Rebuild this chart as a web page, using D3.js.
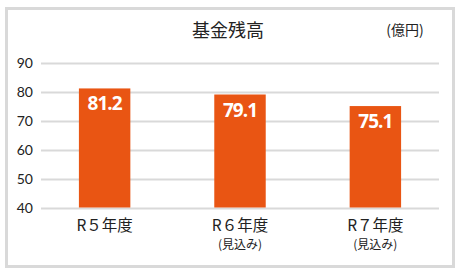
<html>
<head>
<meta charset="utf-8">
<script src="https://d3js.org/d3.v7.min.js"></script>
<style>
  body { margin: 0; background: #fff; }
  text { font-family: "Noto Sans CJK JP", "Noto Sans", sans-serif; fill: #222; }
</style>
</head>
<body>
<svg id="chart" width="460" height="273"></svg>
<script>
const categories = ["R５年度", "R６年度", "R７年度"];
const subLabels = ["", "(見込み)", "(見込み)"];
const values = [81.2, 79.1, 75.1];
const yTicks = [40, 50, 60, 70, 80, 90];

const svg = d3.select("svg#chart");
const margin = { top: 63, right: 21, bottom: 66, left: 41 };
const width = 460, height = 273;

// outer frame
svg.append("rect")
   .attr("x", 6.5).attr("y", 8.5)
   .attr("width", 447).attr("height", 258)
   .attr("fill", "none")
   .attr("stroke", "#d9d9d9")
   .attr("stroke-width", 3);

const x = d3.scaleBand()
   .domain(categories)
   .range([margin.left, width - margin.right])
   .paddingInner(0.62).paddingOuter(0.28);

const y = d3.scaleLinear()
   .domain([40, 90])
   .range([height - margin.bottom + 0.5, margin.top]);

// grid lines
svg.append("g").selectAll("line").data(yTicks)
   .join("line")
   .attr("x1", margin.left).attr("x2", width - margin.right)
   .attr("y1", d => Math.round(y(d)) + 0.5).attr("y2", d => Math.round(y(d)) + 0.5)
   .attr("stroke", "#d9d9d9").attr("stroke-width", 2);

// y tick labels
svg.append("g").selectAll("text").data(yTicks)
   .join("text")
   .attr("x", 33).attr("y", d => y(d) + 5)
   .attr("text-anchor", "end")
   .style("font-size", "14px")
   .style("font-family", "Lato, 'Noto Sans', sans-serif")
   .text(d => d);

// bars
svg.append("g").selectAll("rect").data(values)
   .join("rect")
   .attr("x", (d, i) => x(categories[i]))
   .attr("width", x.bandwidth())
   .attr("y", d => y(d))
   .attr("height", d => y(40) - y(d))
   .attr("fill", "#e95513");

// value labels
svg.append("g").selectAll("text").data(values)
   .join("text")
   .attr("x", (d, i) => x(categories[i]) + x.bandwidth() / 2)
   .attr("y", d => y(d) + 22)
   .attr("text-anchor", "middle")
   .style("font-size", "19px")
   .style("font-weight", "bold")
   .style("font-family", "'Open Sans', 'Noto Sans', sans-serif")
   .style("letter-spacing", "-1px")
   .style("fill", "#fff")
   .text(d => d.toFixed(1));

// category labels
svg.append("g").selectAll("text").data(categories)
   .join("text")
   .attr("x", d => x(d) + x.bandwidth() / 2)
   .attr("y", 231)
   .attr("text-anchor", "middle")
   .style("font-size", "15.5px")
   .text(d => d);

svg.append("g").selectAll("text").data(subLabels)
   .join("text")
   .attr("x", (d, i) => x(categories[i]) + x.bandwidth() / 2)
   .attr("y", 249)
   .attr("text-anchor", "middle")
   .style("font-size", "12px")
   .text(d => d);

// title and unit
svg.append("text")
   .attr("x", 228).attr("y", 37)
   .attr("text-anchor", "middle")
   .style("font-size", "18px")
   .text("基金残高");

svg.append("text")
   .attr("x", 405).attr("y", 35)
   .attr("text-anchor", "middle")
   .style("font-size", "14px")
   .text("(億円)");
</script>
</body>
</html>
